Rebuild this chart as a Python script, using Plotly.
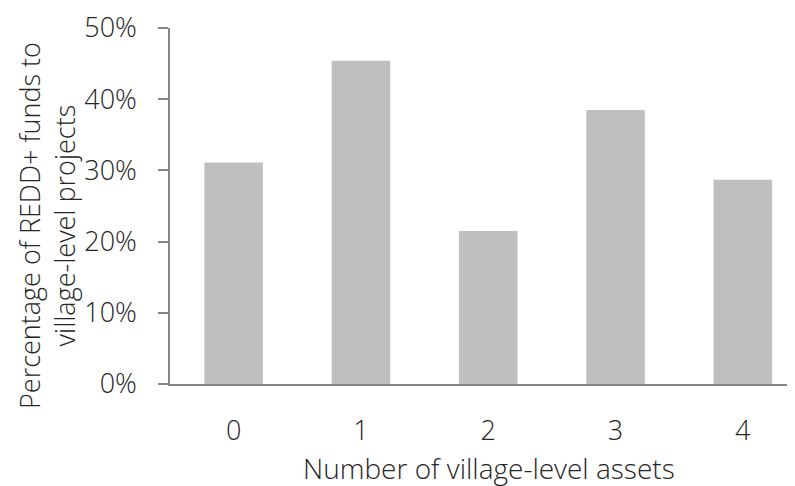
import plotly.graph_objects as go

categories = ["0", "1", "2", "3", "4"]
values = [0.311, 0.454, 0.215, 0.385, 0.287]
y_ticks = [0, 0.1, 0.2, 0.3, 0.4, 0.5]
y_tick_labels = ["0%", "10%", "20%", "30%", "40%", "50%"]

FONT = "Open Sans"
TXT = "#262626"
FS = 27

# page body has an 8px default margin; size figure so it fits the window
fig = go.Figure(go.Bar(
    x=categories, y=values,
    marker=dict(color="#bfbfbf", line=dict(width=0)),
    width=0.46,
))

fig.update_layout(
    width=787, height=478,
    margin=dict(l=162, r=0, t=20, b=102, autoexpand=False),
    plot_bgcolor="white", paper_bgcolor="white",
    showlegend=False,
    font=dict(family=FONT, size=FS, color=TXT, weight=300),
    bargap=0.54,
)
fig.update_xaxes(
    type="category", range=[-0.5, 4.41], automargin=False,
    showline=True, linecolor="#868686", linewidth=1.5,
    ticks="", showgrid=False, zeroline=False,
    ticklabelstandoff=22, ticklabeloverflow="allow",
    tickfont=dict(family=FONT, size=FS, color=TXT, weight=300),
)
fig.update_yaxes(
    range=[0, 0.5], tickvals=y_ticks, ticktext=y_tick_labels, automargin=False,
    showline=True, linecolor="#868686", linewidth=1.5,
    ticks="outside", ticklen=10, tickcolor="#868686", tickwidth=1.5,
    showgrid=False, zeroline=False,
    ticklabelstandoff=16, ticklabeloverflow="allow",
    tickfont=dict(family=FONT, size=FS, color=TXT, weight=300),
)

fig.add_annotation(
    text="Percentage of REDD+ funds to<br>village-level projects",
    xref="paper", yref="paper", x=(47 - 170) / 625, y=0.5 - 20 / 356,
    xanchor="center", yanchor="middle", textangle=-90,
    showarrow=False, font=dict(family=FONT, size=27, color=TXT, weight=300),
)
fig.add_annotation(
    text="Number of village-level assets",
    xref="paper", yref="paper", x=(489 - 170) / 625, y=(384 - 468) / 356,
    xanchor="center", yanchor="middle",
    showarrow=False, font=dict(family=FONT, size=28, color=TXT, weight=300),
)

fig.write_html("out.html")
